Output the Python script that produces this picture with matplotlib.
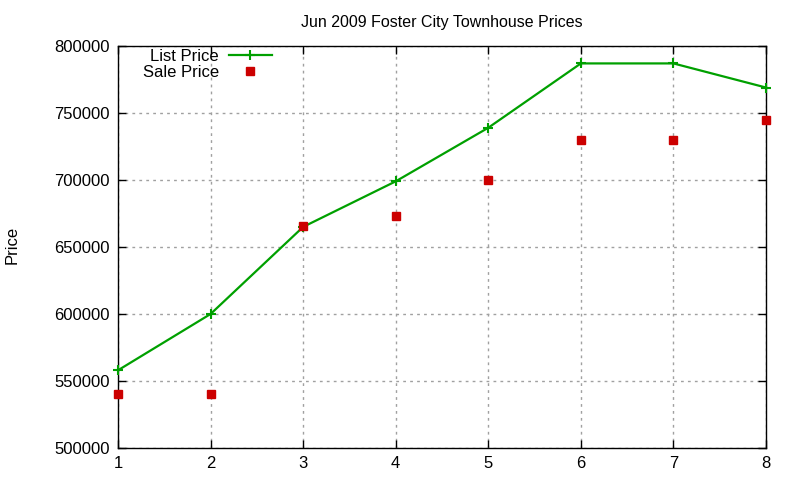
import matplotlib
matplotlib.use("Agg")
import matplotlib.pyplot as plt

plt.rcParams['font.family'] = ['Liberation Sans', 'DejaVu Sans']

months = [1, 2, 3, 4, 5, 6, 7, 8]
list_price = [558000, 600000, 665000, 699000, 739000, 787000, 787000, 769000]
sale_price = [540000, 540000, 666000, 673000, 700000, 730000, 730000, 745000]
xticks = [1, 2, 3, 4, 5, 6, 7, 8]
yticks = [500000, 550000, 600000, 650000, 700000, 750000, 800000]

fig = plt.figure(figsize=(8, 4.8), dpi=100)
ax = fig.add_axes([118/800, 32/480, 648/800, 402/480])

green = '#00a000'
red = '#cc0000'

ax.plot(months, list_price, color=green, lw=1.6, marker='+', ms=6.5, mew=1.5,
        label='List Price', clip_on=False, zorder=3)
ax.plot(months, sale_price, ls='none', color=red, marker='s', ms=6,
        label='Sale Price', clip_on=False, zorder=4)

ax.set_xlim(1, 8)
ax.set_ylim(500000, 800000)
ax.set_xticks(xticks)
ax.set_yticks(yticks)
ax.tick_params(direction='in', top=True, right=True, labelsize=12, length=6, width=1, pad=6)
ax.grid(True, color='#a0a0a0', ls=(0, (2, 3)), lw=1)
for s in ax.spines.values():
    s.set_linewidth(1)

ax.set_title('Jun 2009 Foster City Townhouse Prices', fontsize=11.5, pad=14)
fig.text(12/800, 1 - 245/480, 'Price', rotation=90, fontsize=12, ha='center', va='center')

leg = ax.legend(loc='upper left', bbox_to_anchor=(0.025, 1.013), markerfirst=False,
                frameon=False, fontsize=12, handlelength=2.6, labelspacing=0.05,
                borderaxespad=0.1, handletextpad=0.6)

fig.savefig('out.png', dpi=100)
